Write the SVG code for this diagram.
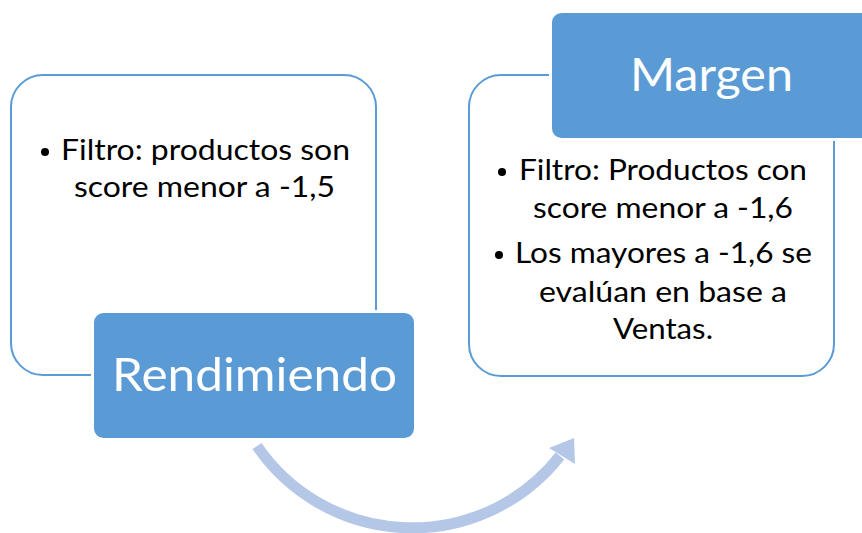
<svg xmlns="http://www.w3.org/2000/svg" width="862" height="533" viewBox="0 0 862 533">
<style>
.outline{fill:#fff;stroke:#5b9bd5;stroke-width:2}
.label{fill:#5b9bd5;stroke:#fff;stroke-width:3}
.lt{font-family:Lato,"Open Sans",sans-serif;font-size:47px;fill:#fff}
.bt{font-family:Lato,"Open Sans",sans-serif;font-size:28px;fill:#000}
.arc{fill:none;stroke:#b4c7e7;stroke-width:11}
</style>
<rect width="862" height="533" fill="#fff"/>
<g id="connectors">
<path class="arc" d="M257 446 A188 188 0 0 0 560 456"/>
<polygon points="574,438 549,448 575,464" fill="#b4c7e7"/>
</g>
<g id="rendimiendo-box">
<rect class="outline" x="11" y="75" width="365" height="300" rx="32"/>
<circle cx="45" cy="152" r="4"/>
<text class="bt" x="61" y="160" textLength="289" lengthAdjust="spacingAndGlyphs">Filtro: productos son</text>
<text class="bt" x="74" y="197" textLength="261" lengthAdjust="spacingAndGlyphs">score menor a -1,5</text>
</g>
<g id="rendimiendo-label">
<rect class="label" x="92.5" y="311.5" width="323" height="128" rx="11"/>
<text class="lt" x="112" y="391" textLength="285" lengthAdjust="spacingAndGlyphs">Rendimiendo</text>
</g>
<g id="margen-box">
<rect class="outline" x="469" y="75" width="365" height="301" rx="32"/>
<circle cx="502" cy="172" r="4"/>
<text class="bt" x="519" y="180" textLength="288" lengthAdjust="spacingAndGlyphs">Filtro: Productos con</text>
<text class="bt" x="533" y="218" textLength="260" lengthAdjust="spacingAndGlyphs">score menor a -1,6</text>
<circle cx="499" cy="255" r="4"/>
<text class="bt" x="515" y="263" textLength="297" lengthAdjust="spacingAndGlyphs">Los mayores a -1,6 se</text>
<text class="bt" x="539" y="302" textLength="248" lengthAdjust="spacingAndGlyphs">evalúan en base a</text>
<text class="bt" x="613" y="339" textLength="100" lengthAdjust="spacingAndGlyphs">Ventas.</text>
</g>
<g id="margen-label">
<rect class="label" x="550.5" y="11.5" width="323" height="128" rx="11"/>
<text class="lt" x="630" y="91" textLength="163" lengthAdjust="spacingAndGlyphs">Margen</text>
</g>
</svg>
